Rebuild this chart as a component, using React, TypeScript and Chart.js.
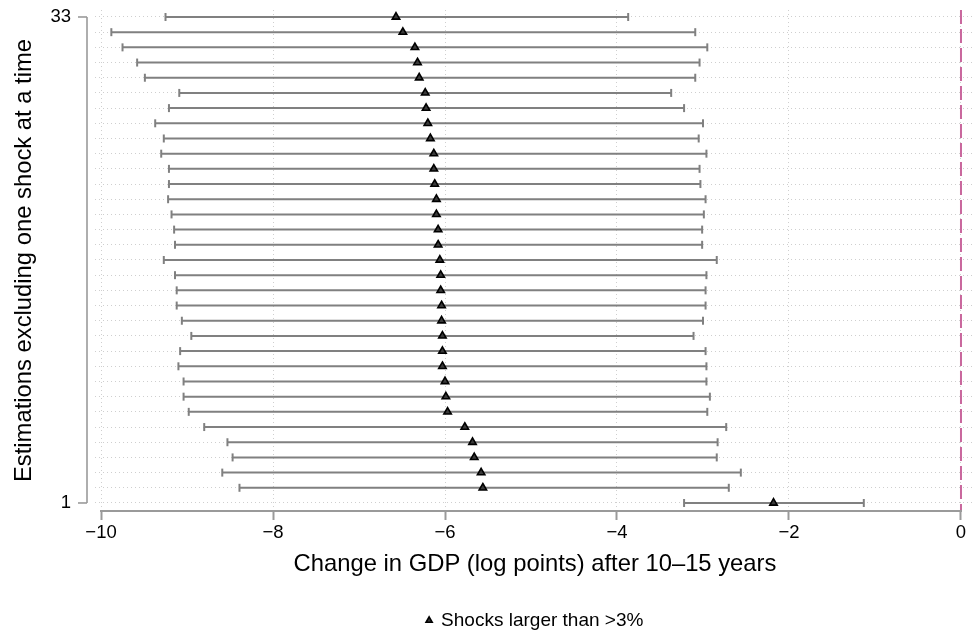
import React, { useEffect, useRef } from "react";
import { Chart, registerables } from "chart.js";

Chart.register(...registerables);

// Estimation number (1 = bottom, 33 = top)
const rows = [1, 2, 3, 4, 5, 6, 7, 8, 9, 10, 11, 12, 13, 14, 15, 16, 17, 18, 19, 20, 21, 22, 23, 24, 25, 26, 27, 28, 29, 30, 31, 32, 33];
// Point estimates
const estimates = [-2.18, -5.56, -5.58, -5.66, -5.68, -5.77, -5.97, -5.99, -6.0, -6.03, -6.03, -6.03, -6.04, -6.04, -6.05, -6.05, -6.06, -6.08, -6.08, -6.1, -6.1, -6.12, -6.13, -6.13, -6.17, -6.2, -6.22, -6.23, -6.3, -6.32, -6.35, -6.49, -6.57];
// Lower confidence bounds
const lower = [-3.22, -8.39, -8.59, -8.47, -8.53, -8.8, -8.98, -9.04, -9.04, -9.1, -9.08, -8.95, -9.06, -9.12, -9.12, -9.14, -9.27, -9.14, -9.15, -9.18, -9.22, -9.21, -9.21, -9.3, -9.27, -9.37, -9.21, -9.09, -9.49, -9.58, -9.75, -9.88, -9.25];
// Upper confidence bounds
const upper = [-1.13, -2.7, -2.56, -2.84, -2.83, -2.73, -2.95, -2.92, -2.96, -2.96, -2.97, -3.11, -3.0, -2.97, -2.97, -2.96, -2.84, -3.01, -3.01, -2.99, -2.97, -3.03, -3.04, -2.96, -3.05, -3.0, -3.22, -3.37, -3.09, -3.04, -2.95, -3.09, -3.87];
// X axis ticks
const xTicks = [-10, -8, -6, -4, -2, 0];
// Labelled Y ticks
const yLabelled = [1, 33];

const FONT = "'Liberation Sans', Arial, Helvetica, sans-serif";
const GRID = "#cfcfcf";
const AXIS = "#9a9a9a";
const BAR = "#808080";

const axisPlugin = {
  id: "stataAxes",
  beforeDatasetsDraw(chart: any) {
    const { ctx, chartArea, scales } = chart;
    const x0 = scales.x.getPixelForValue(0);
    ctx.save();
    ctx.strokeStyle = "#c9679d";
    ctx.lineWidth = 2;
    ctx.setLineDash([14, 5]);
    ctx.beginPath();
    ctx.moveTo(x0, chartArea.top);
    ctx.lineTo(x0, chartArea.bottom);
    ctx.stroke();
    ctx.restore();
  },
  afterDraw(chart: any) {
    const { ctx, chartArea, scales } = chart;
    const xs = scales.x;
    const ys = scales.y;
    ctx.save();
    ctx.strokeStyle = AXIS;
    ctx.lineWidth = 2;
    ctx.setLineDash([]);
    // x axis line
    const yb = chartArea.bottom;
    ctx.beginPath();
    ctx.moveTo(xs.getPixelForValue(xTicks[0]) - 1, yb);
    ctx.lineTo(xs.getPixelForValue(xTicks[xTicks.length - 1]) + 1, yb);
    ctx.stroke();
    // y axis line
    const ax = chartArea.left - 8;
    const yTop = ys.getPixelForValue(yLabelled[1]);
    const yBot = ys.getPixelForValue(yLabelled[0]);
    ctx.lineWidth = 1.6;
    ctx.beginPath();
    ctx.moveTo(ax, yTop);
    ctx.lineTo(ax, yBot);
    ctx.stroke();
    yLabelled.forEach((v) => {
      const py = ys.getPixelForValue(v);
      ctx.beginPath();
      ctx.moveTo(ax, py);
      ctx.lineTo(ax - 9, py);
      ctx.stroke();
    });
    ctx.restore();
  },
};

export default function App() {
  const ref = useRef<HTMLCanvasElement | null>(null);

  useEffect(() => {
    document.body.style.margin = "0";
    if (!ref.current) return;
    Chart.defaults.font.family = FONT;
    Chart.defaults.color = "#000";

    const ciData: any[] = [];
    const capData: any[] = [];
    rows.forEach((r, i) => {
      ciData.push({ x: lower[i], y: r });
      ciData.push({ x: upper[i], y: r });
      ciData.push({ x: null, y: null });
      capData.push({ x: lower[i], y: r });
      capData.push({ x: upper[i], y: r });
    });
    const estData = rows.map((r, i) => ({ x: estimates[i], y: r }));

    const chart = new Chart(ref.current, {
      type: "scatter",
      data: {
        datasets: [
          {
            label: "Shocks larger than >3%",
            data: estData,
            pointStyle: "triangle",
            pointRadius: 4.3,
            backgroundColor: "#3a3a3a",
            borderColor: "#000",
            borderWidth: 1.6,
            order: 1,
          } as any,
          {
            label: "caps",
            data: capData,
            pointStyle: "line",
            rotation: 90,
            pointRadius: 4,
            borderColor: BAR,
            backgroundColor: BAR,
            borderWidth: 2,
            order: 2,
          } as any,
          {
            label: "ci",
            data: ciData,
            showLine: true,
            spanGaps: false,
            pointRadius: 0,
            borderColor: BAR,
            borderWidth: 2,
            order: 3,
          } as any,
        ],
      },
      options: {
        animation: false,
        responsive: false,
        maintainAspectRatio: false,
        events: [],
        layout: { autoPadding: false, padding: { top: 10, right: 2, left: 0, bottom: -10 } },
        plugins: {
          tooltip: { enabled: false },
          legend: {
            position: "bottom",
            fullSize: false,
            labels: {
              filter: (item: any) => item.datasetIndex === 0,
              usePointStyle: true,
              boxWidth: 5,
              boxHeight: 5,
              padding: 2,
              color: "#000",
              font: { size: 19, family: FONT },
            },
          },
        },
        scales: {
          x: {
            type: "linear",
            min: -10.07,
            max: 0.163,
            afterBuildTicks: (scale: any) => {
              scale.ticks = xTicks.map((v) => ({ value: v }));
            },
            afterFit: (scale: any) => {
              scale.height = 98;
              scale.paddingLeft = 0;
              scale.paddingRight = 0;
              scale.paddingTop = 0;
              scale.paddingBottom = 0;
            },
            ticks: {
              padding: 2,
              color: "#000",
              font: { size: 18.5, family: FONT },
              callback: (v: any) => (Number(v) < 0 ? "\u2212" + Math.abs(Number(v)) : String(v)),
            },
            grid: {
              color: GRID,
              lineWidth: 1,
              drawTicks: true,
              tickLength: 9,
              tickColor: AXIS,
              tickWidth: 2,
              tickBorderDash: [],
            },
            border: { display: false, dash: [1, 3] },
            title: {
              display: true,
              text: "Change in GDP (log points) after 10\u201315 years",
              color: "#000",
              font: { size: 23.8, family: FONT },
              padding: { top: 0, bottom: 30 },
            },
          },
          y: {
            type: "linear",
            min: 0.472,
            max: 33.46,
            afterBuildTicks: (scale: any) => {
              scale.ticks = rows.map((v) => ({ value: v }));
            },
            afterFit: (scale: any) => {
              scale.width = 95;
              scale.paddingLeft = 0;
              scale.paddingRight = 0;
              scale.paddingTop = 0;
              scale.paddingBottom = 0;
            },
            ticks: {
              padding: 24,
              color: "#000",
              font: { size: 18.5, family: FONT },
              autoSkip: false,
              callback: (v: any) => (yLabelled.includes(Number(v)) ? String(v) : ""),
            },
            grid: {
              color: GRID,
              lineWidth: 1,
              drawTicks: false,
            },
            border: { display: false, dash: [1, 3] },
            title: {
              display: true,
              text: "Estimations excluding one shock at a time",
              color: "#000",
              font: { size: 23.8, family: FONT },
              padding: { top: 10, bottom: 0 },
            },
          },
        },
      } as any,
      plugins: [axisPlugin],
    });

    return () => chart.destroy();
  }, []);

  return (
    <div style={{ position: "absolute", left: 0, top: 0, width: 977, height: 630 }}>
      <canvas ref={ref} width={977} height={630} style={{ width: 977, height: 630 }} />
    </div>
  );
}
